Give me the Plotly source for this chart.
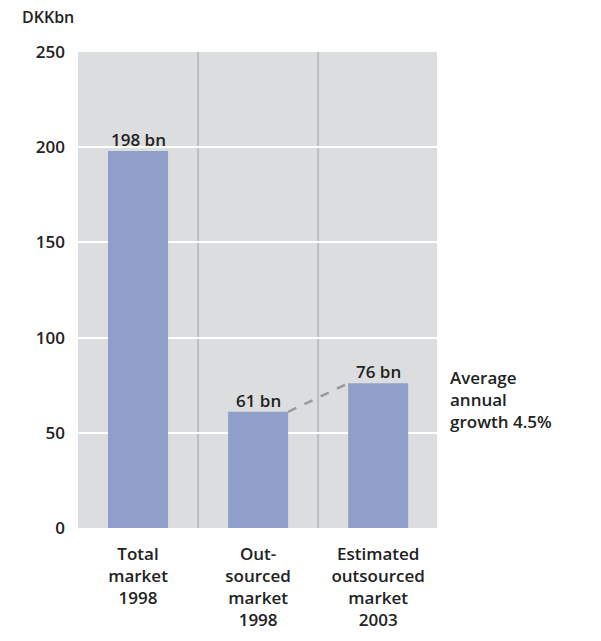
import plotly.graph_objects as go

categories = ["Total<br>market<br>1998", "Out-<br>sourced<br>market<br>1998", "Estimated<br>outsourced<br>market<br>2003"]
values = [198, 61, 76]
value_labels = ["198 bn", "61 bn", "76 bn"]
growth_note = "Average<br>annual<br>growth 4.5%"
y_ticks = [0, 50, 100, 150, 200, 250]

FONT = "Open Sans"
TXT = "#222222"
xpos = list(range(len(categories)))

fig = go.Figure()
fig.add_trace(go.Bar(x=xpos, y=values, width=0.5, marker=dict(color="#8f9fca", line=dict(width=0)),
                     hoverinfo="skip"))
fig.add_trace(go.Scatter(x=[xpos[1] + 0.25, xpos[2] - 0.25], y=[values[1], values[2]], mode="lines",
                         line=dict(color="#999999", width=2.5, dash="dash"), hoverinfo="skip"))

for i, (v, t) in enumerate(zip(values, value_labels)):
    fig.add_annotation(x=xpos[i], y=v, text=t, showarrow=False, yanchor="bottom", yshift=-2,
                       font=dict(family=FONT, size=17, color=TXT, weight=600))

for xs in [0.5, 1.5]:
    fig.add_shape(type="line", x0=xs, x1=xs, y0=0, y1=250, xref="x", yref="y",
                  line=dict(color="#bcbdbf", width=2), layer="below")

fig.add_annotation(xref="paper", yref="paper", x=-0.162, y=1.0, yshift=22, text="DKKbn", showarrow=False,
                   xanchor="left", yanchor="bottom", font=dict(family=FONT, size=16, color=TXT, weight=600))
fig.add_annotation(xref="paper", yref="y", x=1.03, y=76, yshift=19, text=growth_note, showarrow=False,
                   xanchor="left", yanchor="top", align="left",
                   font=dict(family=FONT, size=17, color=TXT, weight=600))

fig.update_layout(
    width=601, height=641,
    margin=dict(l=78, r=164, t=52, b=113, autoexpand=False),
    paper_bgcolor="white", plot_bgcolor="#dcdddf",
    showlegend=False, bargap=0.5,
    xaxis=dict(range=[-0.5, 2.49], tickvals=xpos, ticktext=categories, showgrid=False, zeroline=False,
               ticks="", ticklabelstandoff=14, automargin=False,
               tickfont=dict(family=FONT, size=17, color=TXT, weight=600), fixedrange=True),
    yaxis=dict(range=[0, 250], tickvals=y_ticks, showgrid=True, gridcolor="white", gridwidth=2,
               zeroline=False, ticks="", ticklabelstandoff=12, automargin=False,
               tickfont=dict(family=FONT, size=17, color=TXT, weight=600), fixedrange=True),
)
fig.write_html("out.html")
